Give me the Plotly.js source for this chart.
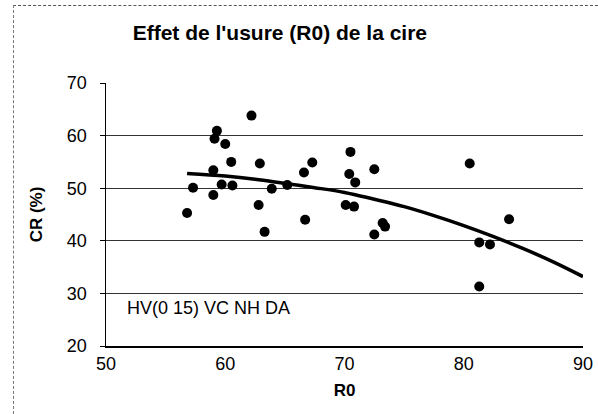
<!DOCTYPE html>
<html>
<head>
<meta charset="utf-8">
<script src="https://cdn.plot.ly/plotly-3.0.1.min.js"></script>
<style>
  html, body { margin: 0; padding: 0; background: #fff; }
  #wrap { position: relative; width: 598px; height: 414px; }
  #chart { width: 598px; height: 414px; }
  #frame { position: absolute; left: 13px; top: 5px; right: 0; bottom: 0;
           border-left: 1px dashed #777; border-top: 1px dashed #555; pointer-events: none; }
</style>
</head>
<body>
<div id="wrap">
  <div id="chart"></div>
  <div id="frame"></div>
</div>
<script>
// Scatter data: R0 vs CR (%)
const r0 = [62.2, 59.3, 59.1, 60.0, 60.5, 62.9, 67.3, 66.6, 59.0, 57.3, 59.7, 60.6, 63.9, 65.2, 59.0, 56.8, 62.8, 66.7, 63.3,
            70.5, 70.4, 70.9, 72.5, 70.1, 70.8, 73.2, 73.4, 72.5, 80.5, 81.3, 82.2, 83.8, 81.3];
const cr = [63.8, 60.9, 59.4, 58.4, 55.0, 54.7, 54.9, 53.0, 53.4, 50.1, 50.7, 50.5, 49.9, 50.6, 48.7, 45.3, 46.8, 44.0, 41.7,
            56.9, 52.7, 51.1, 53.6, 46.8, 46.5, 43.4, 42.7, 41.2, 54.7, 39.7, 39.3, 44.1, 31.3];

// Trend curve
const trendX = [56.8, 60.0, 62.5, 65.0, 67.5, 70.0, 72.5, 75.0, 77.5, 80.0, 82.5, 85.0, 87.5, 90.0];
const trendY = [52.8, 52.3, 51.7, 50.9, 50.1, 49.2, 47.9, 46.5, 44.8, 42.9, 40.8, 38.5, 36.0, 33.2];

const yTicks = [20, 30, 40, 50, 60, 70];
const xTicks = [50, 60, 70, 80, 90];

const titleText = "Effet de l'usure (R0) de la cire";
const xTitle = "R0";
const yTitle = "CR (%)";
const noteText = "HV(0 15) VC NH DA";

const FONT = "Liberation Sans, Arial, sans-serif";

const traces = [
  {
    x: r0, y: cr, type: 'scatter', mode: 'markers',
    marker: { color: '#000', size: 10 },
    hoverinfo: 'x+y', showlegend: false
  },
  {
    x: trendX, y: trendY, type: 'scatter', mode: 'lines',
    line: { color: '#000', width: 3.5, shape: 'spline', smoothing: 1 },
    hoverinfo: 'skip', showlegend: false
  }
];

const layout = {
  width: 598, height: 414,
  margin: { l: 106, r: 15, t: 83, b: 68, pad: 0 },
  paper_bgcolor: '#fff', plot_bgcolor: '#fff',
  font: { family: FONT, color: '#000', size: 18 },
  title: {
    text: '<b>' + titleText + '</b>',
    font: { family: FONT, size: 21, color: '#000' },
    xref: 'container', x: 0.468, xanchor: 'center',
    yref: 'container', y: 0.92, yanchor: 'middle'
  },
  xaxis: {
    range: [50, 90], tickvals: xTicks, ticktext: xTicks.map(String),
    showgrid: false, zeroline: false,
    showline: true, linecolor: '#000', linewidth: 1.5,
    ticks: '', ticklabelstandoff: 1,
    tickfont: { family: FONT, size: 18, color: '#000' },
    title: { text: '<b>' + xTitle + '</b>', font: { family: FONT, size: 17, color: '#000' }, standoff: 11 },
    fixedrange: true
  },
  yaxis: {
    range: [20, 70], tickvals: yTicks, ticktext: yTicks.map(String),
    showgrid: true, gridcolor: '#333', gridwidth: 1,
    zeroline: false,
    showline: true, linecolor: '#000', linewidth: 1.5,
    ticks: 'outside', ticklen: 5, tickcolor: '#000', tickwidth: 1,
    ticklabelstandoff: 9,
    tickfont: { family: FONT, size: 18, color: '#000' },
    title: { text: '<b>' + yTitle + '</b>', font: { family: FONT, size: 17, color: '#000' }, standoff: 20 },
    fixedrange: true
  },
  annotations: [
    {
      text: noteText, showarrow: false,
      xref: 'paper', x: 0.04, xanchor: 'left',
      yref: 'paper', y: 0.145, yanchor: 'middle',
      font: { family: FONT, size: 18, color: '#000' }
    }
  ]
};

Plotly.newPlot('chart', traces, layout, { staticPlot: true, displayModeBar: false });
</script>
</body>
</html>
